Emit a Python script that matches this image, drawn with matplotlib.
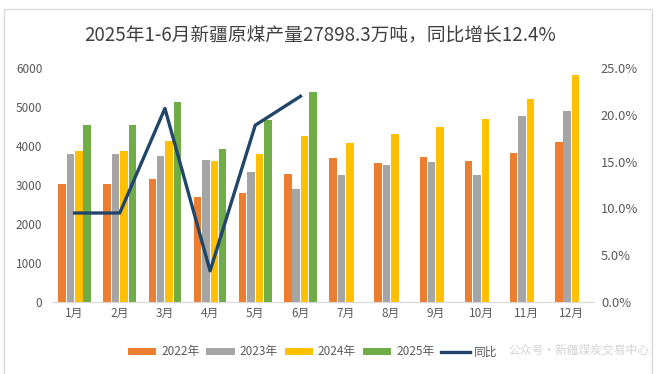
import numpy as np
import matplotlib
matplotlib.use("Agg")
from matplotlib import pyplot as plt
from matplotlib.patches import Rectangle

plt.rcParams['font.family'] = ['Noto Sans CJK SC', 'DejaVu Sans']

months = ['1月', '2月', '3月', '4月', '5月', '6月', '7月', '8月', '9月', '10月', '11月', '12月']
y2022 = [3025, 3025, 3160, 2700, 2800, 3290, 3685, 3555, 3725, 3625, 3830, 4110]
y2023 = [3790, 3790, 3750, 3650, 3340, 2895, 3255, 3515, 3580, 3255, 4775, 4900]
y2024 = [3880, 3880, 4140, 3625, 3790, 4265, 4085, 4310, 4480, 4705, 5200, 5825]
y2025 = [4540, 4540, 5135, 3915, 4670, 5400]
yoy = [9.5, 9.5, 20.7, 3.3, 18.9, 22.0]  # %

colors = ['#ED7D31', '#A5A5A5', '#FFC000', '#70AD47']
line_color = '#22456A'
tick_color = '#595959'

fig = plt.figure(figsize=(6.59, 3.74), dpi=100)
ax = fig.add_axes([52/659, 1 - 301.7/374, (594 - 52)/659, (301.7 - 68.3)/374])

x = np.arange(len(months))
w = 0.165
step = 0.186
series = [y2022, y2023, y2024, y2025]
labels = ['2022年', '2023年', '2024年', '2025年']
bars = []
for k, (vals, c, lab) in enumerate(zip(series, colors, labels)):
    xs = x[:len(vals)] + (k - 1.5) * step
    bars.append(ax.bar(xs, vals, width=w, color=c, label=lab, zorder=2))

ax.set_xlim(-0.5, len(months) - 0.5)
ax.set_ylim(0, 6000)
ax.set_yticks(range(0, 6001, 1000))
ax.set_xticks(x)
ax.set_xticklabels(months)
ax.tick_params(axis='both', length=0, colors=tick_color, labelsize=8.5)
ax.tick_params(axis='y', pad=7)
for s in ['top', 'right', 'left']:
    ax.spines[s].set_visible(False)
ax.spines['bottom'].set_color('#D9D9D9')

ax2 = ax.twinx()
ln, = ax2.plot(x[:len(yoy)], np.array(yoy) / 100, color=line_color, lw=2.4, label='同比', zorder=3)
ax2.set_ylim(0, 0.25)
ax2.set_yticks(np.arange(0, 0.2501, 0.05))
ax2.set_yticklabels([f'{v*100:.1f}%' for v in np.arange(0, 0.2501, 0.05)])
ax2.tick_params(axis='y', length=0, colors=tick_color, labelsize=9.3, pad=5)
for s in ['top', 'right', 'left', 'bottom']:
    ax2.spines[s].set_visible(False)

fig.text(0.485, 1 - 35/374, '2025年1-6月新疆原煤产量27898.3万吨，同比增长12.4%',
         ha='center', va='center', fontsize=13.5, color='#404040')

handles = bars + [ln]
fig.legend(handles, labels + ['同比'], loc='center', bbox_to_anchor=(0.475, 1 - 352/374),
           ncol=5, frameon=False, fontsize=8.5, labelcolor=tick_color,
           handlelength=2.4, handleheight=0.6, columnspacing=0.6, handletextpad=0.4)

# watermark
fig.text(508/659, 1 - 350/374, '公众号·新疆煤炭交易中心', ha='left', va='center',
         fontsize=8.5, color='#C8C8C8', alpha=0.8)

fig.patches.append(Rectangle((4/659, -0.05), 648/659, 1 - 9/374 + 0.05,
                             transform=fig.transFigure, fill=False, edgecolor='#D9D9D9', lw=1))

fig.savefig('out.png', dpi=100)
